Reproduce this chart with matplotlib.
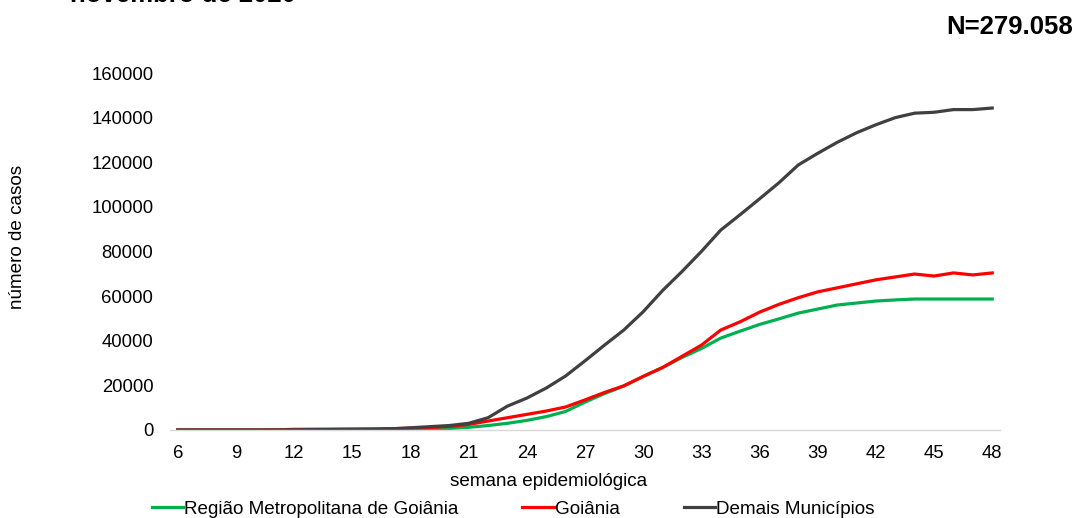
import matplotlib
matplotlib.use("Agg")
import matplotlib.pyplot as plt

plt.rcParams['font.family'] = ['Liberation Sans', 'DejaVu Sans']

semanas = list(range(6, 49))

regiao_metropolitana = [
    0, 0, 0, 0, 0, 0, 0, 0, 0, 0, 50,          # 6-16
    150, 300, 450, 700, 1200, 2000, 3000, 4300, 6000, 8300,  # 17-26
    12500, 16300, 19700, 24000, 28000, 32500, 36500, 41200, 44300, 47300,  # 27-36
    49800, 52400, 54200, 56000, 56900, 57800, 58300, 58700, 58700, 58700,  # 37-46
    58700, 58700,  # 47-48
]

goiania = [
    0, 0, 0, 0, 0, 50, 300, 350, 400, 450, 500,  # 6-16
    600, 800, 1100, 1600, 2500, 4000, 5500, 7000, 8500, 10300,  # 17-26
    13500, 16800, 19800, 24000, 28000, 33000, 38000, 44800, 48500, 52800,  # 27-36
    56300, 59300, 61900, 63700, 65500, 67300, 68600, 69900, 69000, 70400,  # 37-46
    69500, 70400,  # 47-48
]

demais_municipios = [
    0, 0, 0, 0, 0, 0, 100, 150, 200, 250, 300,  # 6-16
    500, 1000, 1500, 2000, 3000, 5500, 10700, 14300, 18800, 24200,  # 17-26
    31000, 38000, 44800, 53000, 62500, 71000, 80000, 89600, 96500, 103600,  # 27-36
    110800, 118800, 124000, 128900, 133200, 136800, 140000, 142000, 142400, 143600,  # 37-46
    143600, 144300,  # 47-48
]

x_ticks = list(range(6, 49, 3))
y_ticks = list(range(0, 160001, 20000))

W, H = 1078, 518
fig = plt.figure(figsize=(W / 100, H / 100), dpi=100)
ax = fig.add_axes([170 / W, 1 - 430 / H, (1000 - 170) / W, (430 - 73) / H])

ax.plot(semanas, regiao_metropolitana, color='#00B050', lw=2.3,
        label='Região Metropolitana de Goiânia', solid_joinstyle='round')
ax.plot(semanas, goiania, color='#FF0000', lw=2.3, label='Goiânia',
        solid_joinstyle='round')
ax.plot(semanas, demais_municipios, color='#404040', lw=2.3,
        label='Demais Municípios', solid_joinstyle='round')

ax.set_xlim(5.6, 48.4)
ax.set_ylim(0, 160000)
ax.set_xticks(x_ticks)
ax.set_yticks(y_ticks)
ax.set_yticklabels([str(v) for v in y_ticks])
ax.tick_params(axis='both', length=0, labelsize=13.3, colors='black')
ax.tick_params(axis='x', pad=11)
ax.tick_params(axis='y', pad=12)

for side in ['top', 'right', 'left']:
    ax.spines[side].set_visible(False)
ax.spines['bottom'].set_color('#d9d9d9')
ax.spines['bottom'].set_linewidth(1.0)

fig.text(549 / W, 1 - 482 / H, 'semana epidemiológica', ha='center', va='center',
         fontsize=13.6)
fig.text(18 / W, 1 - 237 / H, 'número de casos', ha='center', va='center',
         rotation=90, fontsize=13.6)

fig.text(70 / W, 1 - 2.5 / H, 'novembro de 2020', ha='left', va='baseline',
         fontsize=18.5, fontweight='bold')
fig.text(1073 / W, 1 - 27 / H, 'N=279.058', ha='right', va='center',
         fontsize=18.5, fontweight='bold')

fig.legend(loc='center', bbox_to_anchor=(513 / W, 1 - 509 / H), ncol=3,
           frameon=False, fontsize=13.6, handlelength=1.65, handletextpad=0.05,
           columnspacing=3.4, borderpad=0, borderaxespad=0)

fig.savefig('out.png', dpi=100)
